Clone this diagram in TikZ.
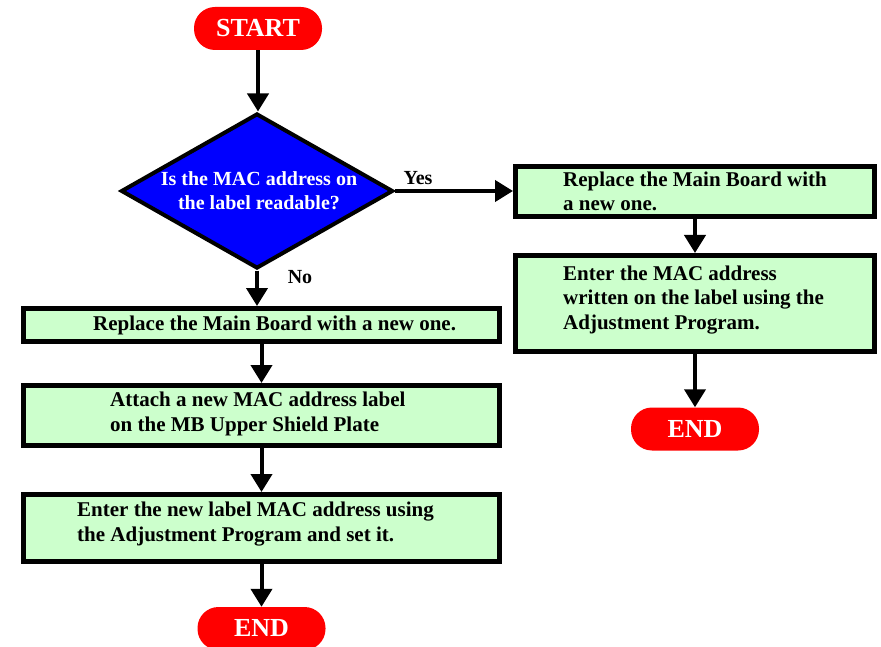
\documentclass[tikz,border=0pt]{standalone}
\usepackage{fontspec}
\setmainfont{Liberation Serif}
\usetikzlibrary{arrows.meta,shapes.geometric}
\definecolor{boxgreen}{HTML}{CCFFCC}
\definecolor{termred}{HTML}{FF0000}
\definecolor{diablue}{HTML}{0000FF}
\begin{document}
\begin{tikzpicture}[x=1pt,y=-1pt,
 term/.style={rectangle, rounded corners=21pt, fill=termred, text=white, font=\fontsize{26}{28}\selectfont\bfseries, minimum width=128pt, minimum height=43pt, inner sep=0pt},
 stepbox/.style={rectangle, draw=black, line width=5pt, fill=boxgreen, inner sep=0pt},
 txt/.style={anchor=west, align=left, font=\fontsize{21}{24.5}\selectfont\bfseries, inner sep=0pt},
 decision/.style={diamond, draw=black, line width=4pt, fill=diablue, minimum width=272pt, minimum height=155pt, inner sep=0pt},
 qtxt/.style={align=center, text=white, font=\fontsize{20}{24}\selectfont\bfseries, inner sep=0pt},
 arr/.style={line width=4pt, -{Triangle[width=21pt,length=18pt]}},
 lab/.style={font=\fontsize{20}{22}\selectfont\bfseries, inner sep=0pt},
]
\useasboundingbox (0,0) rectangle (881,647);

\node[term] (start) at (258,28.5) {START};
\node[decision] (dia) at (257,191) {};
\node[qtxt] (q) at (259,191) {Is the MAC address on\\the label readable?};

\node[stepbox, minimum width=359pt, minimum height=50pt] (r1) at (695,191.5) {};
\node[txt] (r1t) at (563,191.5) {Replace the Main Board with\\a new one.};
\node[stepbox, minimum width=359pt, minimum height=96pt] (r2) at (695,303.5) {};
\node[txt] (r2t) at (563,300) {Enter the MAC address\\written on the label using the\\Adjustment Program.};
\node[term] (end2) at (695,429) {END};

\node[stepbox, minimum width=476pt, minimum height=33pt] (l1) at (261.5,325) {};
\node[txt] (l1t) at (93,325) {Replace the Main Board with a new one.};
\node[stepbox, minimum width=476pt, minimum height=60pt] (l2) at (261.5,415.5) {};
\node[txt] (l2t) at (110,414) {Attach a new MAC address label\\on the MB Upper Shield Plate};
\node[stepbox, minimum width=476pt, minimum height=67pt] (l3) at (261.5,528) {};
\node[txt] (l3t) at (77,524) {Enter the new label MAC address using\\the Adjustment Program and set it.};
\node[term] (end1) at (261.5,628.5) {END};

\node[lab] (yes) at (418,178) {Yes};
\node[lab] (no) at (300,277) {No};

\draw[arr] (start.south) -- (start.south |- dia.north);
\draw[arr] (dia.east) -- (dia.east -| r1.west);
\draw[arr] (dia.south) -- (dia.south |- l1.north);
\draw[arr] (r1) -- (r2);
\draw[arr] (r2) -- (end2);
\draw[arr] (l1) -- (l2);
\draw[arr] (l2) -- (l3);
\draw[arr] (l3) -- (end1);
\end{tikzpicture}
\end{document}
